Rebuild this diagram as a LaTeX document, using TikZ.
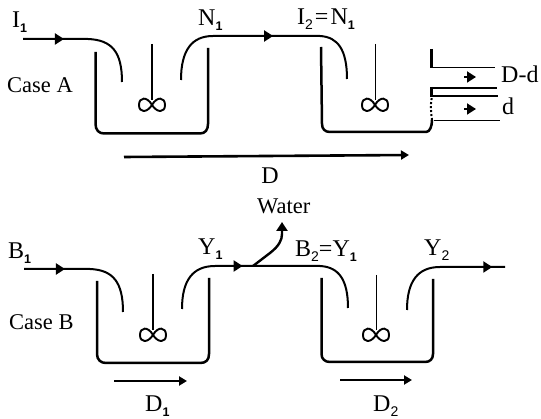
\documentclass[tikz,border=0pt]{standalone}
\usepackage{fontspec}
\setmainfont{Liberation Serif}
\newfontfamily\subfont{Liberation Sans}
\usetikzlibrary{arrows.meta,decorations.markings}
\newcommand{\sub}[1]{\raisebox{-5pt}{\subfont\bfseries\fontsize{12.5}{12.5}\selectfont #1}}
\newcommand{\rsub}[1]{\raisebox{-5pt}{\subfont\fontsize{14}{14}\selectfont #1}}
\tikzset{
  x=1pt,y=-1pt,
  wall/.style={line width=2.5pt,line join=round},
  pipe/.style={line width=2pt},
  thin pipe/.style={line width=1.6pt},
  shaft/.style={line width=1.3pt},
  imp/.style={line width=1.9pt},
  lab/.style={inner sep=0pt,font=\fontsize{24}{24}\selectfont},
  case/.style={inner sep=0pt,font=\fontsize{22.5}{22.5}\selectfont},
  flow/.style={line width=2.6pt,-{Triangle[length=8pt,width=9pt]}},
  mid/.style={postaction={decorate},decoration={markings,mark=at position #1 with {\arrow{Triangle[length=9pt,width=11pt]}}}},
  tip/.style={-{Triangle[length=9pt,width=11pt]}}
}
\newcommand{\impeller}[2]{%
  \draw[imp] (#1,#2) .. controls (#1+5,#2-9) and (#1+13,#2-8) .. (#1+13,#2)
     .. controls (#1+13,#2+8) and (#1+5,#2+8) .. (#1,#2)
     .. controls (#1-5,#2-9) and (#1-13,#2-8) .. (#1-13,#2)
     .. controls (#1-13,#2+8) and (#1-5,#2+8) .. (#1,#2) -- cycle;}
\begin{document}
\begin{tikzpicture}
\useasboundingbox (0,0) rectangle (541,419);
% ---- Case A
\coordinate (ai) at (23,39);
\coordinate (ab) at (88,39);
\coordinate (ac) at (122,82);
\draw[pipe,mid=0.32] (ai) -- (ab) .. controls (112,40) and (122,52) .. (ac);
\draw[wall] (95.5,52) -- (95.5,124) .. controls (95.5,130) and (99,133.5) .. (104,133.5) -- (200,133.5) .. controls (205,133.5) and (208,130) .. (208,124) -- (208,48);
\draw[shaft] (152,44) -- (152,100);
\impeller{152}{105}
\coordinate (ao) at (181,80);
\coordinate (am) at (213,36);
\coordinate (an) at (320,36);
\coordinate (ae) at (347,79);
\draw[pipe,mid=0.54] (ao) .. controls (181,50) and (192,36) .. (am) -- (an) .. controls (338,37) and (347,50) .. (ae);
\draw[wall] (321,47) -- (322,124) .. controls (322,129) and (325,132) .. (330,132) -- (426,132) .. controls (430,132) and (432,126) .. (432,120);
\draw[shaft] (375.5,44) -- (375.5,100);
\impeller{375}{105}
\draw[line width=2pt,dotted] (432,120) .. controls (431,112) and (430,105) .. (432,97);
\draw[line width=3pt] (431.5,49) -- (431.5,68);
\draw[thin pipe] (430,67.5) -- (495,67.5);
\draw[line width=3pt] (431.5,87) -- (431.5,97);
\draw[thin pipe] (431,88) -- (497,88);
\draw[thin pipe] (431,96) -- (498,96);
\draw[thin pipe] (434,120.5) -- (500,120.5);
\draw[line width=1.8pt,tip] (464,77) -- (476,77);
\draw[line width=1.8pt,tip] (464,109) -- (476,109);
\coordinate (adl) at (124,157);
\coordinate (adr) at (409,155);
\draw[flow] (adl) -- (adr);
\node[lab,anchor=base west] (li1) at (12,28) {I\sub{1}};
\node[lab,anchor=base west] (ln1) at (198,26) {N\sub{1}};
\node[lab,anchor=base west] (li2) at (297,25) {I\rsub{2}\kern2pt=\kern2pt N\sub{1}};
\node[case,anchor=base west] (lca) at (7,93) {Case A};
\node[lab,anchor=base west] (ldd) at (501,83) {D-d};
\node[lab,anchor=base west] (ld) at (502,115) {d};
\node[lab,anchor=base] (lD) at (270,184) {D};
% ---- Case B
\coordinate (bi) at (24,269);
\coordinate (bb) at (90,269);
\coordinate (bc) at (123,312);
\draw[pipe,mid=0.32] (bi) -- (bb) .. controls (113,270) and (123,282) .. (bc);
\draw[wall] (97,281) -- (97,354) .. controls (97,360) and (101,363) .. (106,363) -- (200,363) .. controls (206,363) and (209,360) .. (209,354) -- (209,278);
\draw[shaft] (153,274) -- (153,330);
\impeller{153}{335}
\coordinate (bo) at (182,309);
\coordinate (bm) at (215,266);
\coordinate (bn) at (320,266);
\coordinate (be) at (348,308);
\draw[pipe,mid=0.40] (bo) .. controls (182,280) and (193,266) .. (bm) -- (bn) .. controls (339,267) and (348,280) .. (be);
\coordinate (wa) at (253,266);
\coordinate (wb) at (270,253);
\coordinate (wc) at (282,222);
\draw[line width=2.4pt,tip] (wa) -- (wb) .. controls (279,246) and (282,240) .. (282,234) -- (wc);
\draw[wall] (321.5,278) -- (321.5,354) .. controls (321.5,359) and (325,362) .. (330,362) -- (425,362) .. controls (430,362) and (433,359) .. (433,354) -- (433,279);
\draw[shaft] (376.5,275) -- (376.5,330);
\impeller{376}{335}
\coordinate (co) at (407,310);
\coordinate (cm) at (440,267);
\coordinate (ce) at (505,267);
\draw[pipe,mid=0.90] (co) .. controls (407,281) and (418,267) .. (cm) -- (ce);
\coordinate (d1l) at (114,381);
\coordinate (d1r) at (187,381);
\draw[flow] (d1l) -- (d1r);
\coordinate (d2l) at (340,380);
\coordinate (d2r) at (412,380);
\draw[flow] (d2l) -- (d2r);
\node[lab,anchor=base west] (lb1) at (8,259) {B\sub{1}};
\node[lab,anchor=base west] (ly1) at (198,255) {Y\sub{1}};
\node[lab,anchor=base west] (lb2) at (295,257) {B\rsub{2}=Y\sub{1}};
\node[lab,anchor=base west] (ly2) at (424,256) {Y\rsub{2}};
\node[case,anchor=base west] (lcb) at (9,330) {Case B};
\node[case,anchor=base west] (lw) at (257,214) {Water};
\node[lab,anchor=base west] (ld1) at (145,412) {D\sub{1}};
\node[lab,anchor=base west] (ld2) at (373,412) {D\rsub{2}};
\end{tikzpicture}
\end{document}
